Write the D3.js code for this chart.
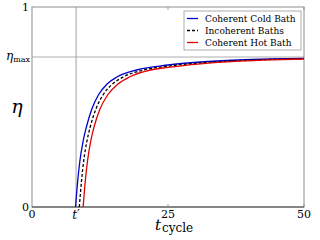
<!DOCTYPE html>
<html>
<head>
<meta charset="utf-8">
<script src="https://cdn.jsdelivr.net/npm/d3@7/dist/d3.min.js"></script>
<style>
  body { margin: 0; background: #fff; }
</style>
</head>
<body>
<svg id="chart" width="320" height="240" font-family="'DejaVu Serif', 'Liberation Serif', serif"></svg>
<script>
// values
const coldT = [8.0, 8.4, 8.8, 9.4, 10.0, 11.0, 12.2, 13.8, 15.6, 19.2, 25, 31, 38, 44, 50];
const coldE = [0, 0.13, 0.23, 0.33, 0.40, 0.49, 0.56, 0.615, 0.65, 0.685, 0.710, 0.725, 0.735, 0.740, 0.743];
const incT  = [8.7, 9.1, 9.5, 10.1, 10.7, 11.75, 13.05, 14.8, 16.75, 20.5, 25, 31, 38, 44, 50];
const incE  = [0, 0.13, 0.23, 0.33, 0.40, 0.49, 0.56, 0.615, 0.65, 0.685, 0.704, 0.720, 0.732, 0.738, 0.7415];
const hotT  = [9.4, 9.8, 10.2, 10.8, 11.4, 12.5, 13.9, 15.8, 17.9, 21.8, 25, 31, 38, 44, 50];
const hotE  = [0, 0.13, 0.23, 0.33, 0.40, 0.49, 0.56, 0.615, 0.65, 0.685, 0.698, 0.716, 0.729, 0.736, 0.740];
const tPrime = 8.1;
const etaMax = 0.75;
const xTicks = [25, 50];
const legendNames = ["Coherent Cold Bath", "Incoherent Baths", "Coherent Hot Bath"];

const svg = d3.select("#chart");
const x = d3.scaleLinear().domain([0, 50]).range([32, 304]);
const y = d3.scaleLinear().domain([0, 1]).range([207, 7]);

// frame
svg.append("rect")
  .attr("x", x(0)).attr("y", y(1))
  .attr("width", x(50) - x(0)).attr("height", y(0) - y(1))
  .attr("fill", "none").attr("stroke", "#a0a0a0").attr("stroke-width", 1.2);
svg.append("line")
  .attr("x1", x(0)).attr("x2", x(50)).attr("y1", y(0)).attr("y2", y(0))
  .attr("stroke", "#444").attr("stroke-width", 1.2);

// reference lines
svg.append("line")
  .attr("x1", x(tPrime)).attr("x2", x(tPrime)).attr("y1", y(0)).attr("y2", y(1))
  .attr("stroke", "#888").attr("stroke-width", 0.8);
svg.append("line")
  .attr("x1", x(0)).attr("x2", x(50)).attr("y1", y(etaMax)).attr("y2", y(etaMax))
  .attr("stroke", "#999").attr("stroke-width", 0.8);

// small ticks
xTicks.forEach(t => {
  svg.append("line").attr("x1", x(t)).attr("x2", x(t)).attr("y1", y(0)).attr("y2", y(0) - 3)
    .attr("stroke", "#888").attr("stroke-width", 0.8);
  svg.append("line").attr("x1", x(t)).attr("x2", x(t)).attr("y1", y(1)).attr("y2", y(1) + 3)
    .attr("stroke", "#888").attr("stroke-width", 0.8);
});

// curves
const line = d3.line().x(d => x(d[0])).y(d => y(d[1])).curve(d3.curveMonotoneX);
const series = [
  { t: coldT, e: coldE, color: "#0000cc", dash: null },
  { t: incT, e: incE, color: "#000", dash: "3,2" },
  { t: hotT, e: hotE, color: "#e00000", dash: null }
];
series.forEach(s => {
  svg.append("path")
    .datum(s.t.map((t, i) => [t, s.e[i]]))
    .attr("d", line)
    .attr("fill", "none")
    .attr("stroke", s.color)
    .attr("stroke-width", 1.3)
    .attr("stroke-dasharray", s.dash);
});

// tick labels
svg.append("text").attr("x", x(0) - 3).attr("y", y(1) + 4).attr("text-anchor", "end")
  .attr("font-size", 11).text("1");
svg.append("text").attr("x", x(0) - 3).attr("y", y(0) + 4).attr("text-anchor", "end")
  .attr("font-size", 11).text("0");
svg.append("text").attr("x", x(0)).attr("y", y(0) + 11).attr("text-anchor", "middle")
  .attr("font-size", 11).text("0");
xTicks.forEach(t => {
  svg.append("text").attr("x", x(t)).attr("y", y(0) + 11).attr("text-anchor", "middle")
    .attr("font-size", 11).text(t);
});
svg.append("text").attr("x", x(tPrime)).attr("y", y(0) + 12).attr("text-anchor", "middle")
  .attr("font-size", 12).attr("font-style", "italic").text("t′");

const em = svg.append("text").attr("x", x(0) - 2).attr("y", y(etaMax) + 3).attr("text-anchor", "end");
em.append("tspan").attr("font-size", 12).attr("font-style", "italic").text("η");
em.append("tspan").attr("font-size", 8).attr("dy", 2).text("max");

// axis labels
svg.append("text").attr("x", 17).attr("y", 113).attr("text-anchor", "middle")
  .attr("font-size", 19).attr("font-style", "italic").text("η");
const xl = svg.append("text").attr("x", 174).attr("y", 230).attr("text-anchor", "middle");
xl.append("tspan").attr("font-size", 15).attr("font-style", "italic").text("t");
xl.append("tspan").attr("font-size", 12).attr("dx", 1).attr("dy", 2).text("cycle");

// legend
const lg = svg.append("g").attr("transform", "translate(184,11)");
lg.append("rect").attr("width", 117).attr("height", 39)
  .attr("fill", "#fff").attr("stroke", "#999").attr("stroke-width", 0.8);
legendNames.forEach((name, i) => {
  const yy = 7.5 + i * 12;
  lg.append("line").attr("x1", 3).attr("x2", 14).attr("y1", yy).attr("y2", yy)
    .attr("stroke", series[i].color).attr("stroke-width", 1.3)
    .attr("stroke-dasharray", series[i].dash);
  lg.append("text").attr("x", 21).attr("y", yy + 3.5).attr("font-size", 9).text(name);
});
</script>
</body>
</html>
